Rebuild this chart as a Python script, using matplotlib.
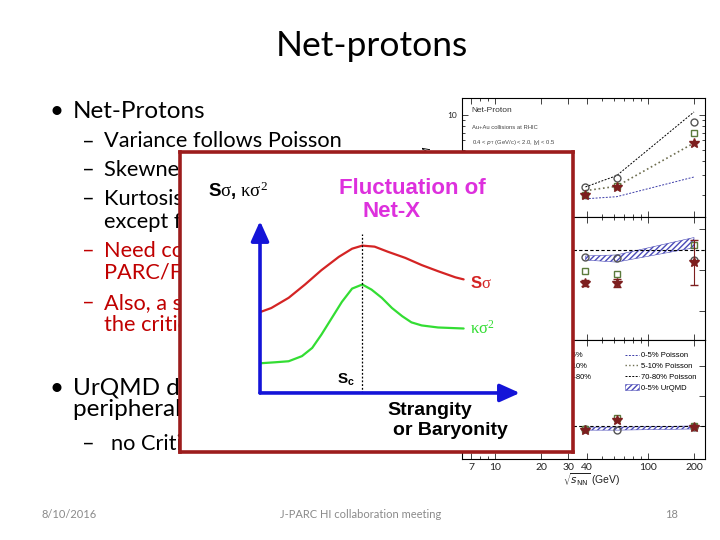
import matplotlib.pyplot as plt
from matplotlib.ticker import FixedLocator, NullFormatter, FormatStrFormatter

plt.rcParams['font.family'] = ['Lato', 'DejaVu Sans']
plt.rcParams['mathtext.rm'] = 'Liberation Serif'
plt.rcParams['mathtext.it'] = 'Liberation Serif:italic'
plt.rcParams['mathtext.bf'] = 'Liberation Sans:bold'

# --- schematic overlay: curves vs. strangity/baryonity (x in units of S_c) ---
red_x = [0, 0.11, 0.28, 0.44, 0.60, 0.77, 0.90, 1.0, 1.12, 1.25, 1.42, 1.58, 1.74, 1.91, 1.99]
red_y = [0.79, 0.83, 0.93, 1.06, 1.20, 1.33, 1.41, 1.44, 1.43, 1.38, 1.32, 1.25, 1.19, 1.13, 1.11]
green_x = [0, 0.15, 0.28, 0.41, 0.51, 0.60, 0.70, 0.80, 0.90, 1.0, 1.09, 1.19, 1.29,
           1.39, 1.48, 1.58, 1.74, 1.99]
green_y = [0.29, 0.30, 0.31, 0.36, 0.44, 0.57, 0.73, 0.89, 1.02, 1.06, 1.01, 0.93, 0.83,
           0.75, 0.69, 0.66, 0.64, 0.63]
s_crit = 1.0
s_crit_top = 1.55
x_axis_len = 2.54
y_axis_len = 1.68

# --- background STAR net-proton panels ---
energies = [39, 62.4, 200]
xtick_vals = [7, 10, 20, 30, 40, 100, 200]

top_star = [2.0, 2.37, 5.7]
top_square = [2.0, 2.4, 7.0]
top_circle = [2.37, 2.83, 8.7]
top_pois_0_5 = [1.87, 1.95, 2.89]
top_pois_5_10 = [2.2, 2.4, 5.7]
top_pois_70_80 = [2.37, 2.97, 10.6]

mid_star = [0.68, 0.68, 0.88]
mid_star_err = [0.03, 0.04, 0.22]
mid_square = [0.79, 0.76, 1.05]
mid_circle = [0.93, 0.92, 0.90]
mid_band_lo = [0.90, 0.88, 1.02]
mid_band_hi = [0.94, 0.95, 1.12]
mid_poisson = 1.0

bot_star = [0.93, 1.10, 0.98]
bot_square = [0.95, 1.13, 1.0]
bot_circle = [0.95, 0.93, 0.98]
bot_band_lo = [0.93, 0.93, 0.95]
bot_band_hi = [0.98, 0.98, 1.0]
bot_poisson = 1.0


def rect(x0, y0, x1, y1):
    return [x0 / 720, 1 - y1 / 540, (x1 - x0) / 720, (y1 - y0) / 540]


fig = plt.figure(figsize=(7.2, 5.4), dpi=100)

# slide layer in pixel coordinates
slide = fig.add_axes([0, 0, 1, 1])
slide.set_xlim(0, 720)
slide.set_ylim(540, 0)
slide.axis('off')
slide.set_zorder(0)

red_txt = '#c00000'
slide.text(372, 56, 'Net-protons', ha='center', va='baseline', fontsize=25.5)

main_fs = 17.5
sub_fs = 15.7
lines = [
    (50, 73, 117.7, 'Net-Protons', 'k', main_fs, '•'),
    (82, 104, 147.3, 'Variance follows Poisson', 'k', sub_fs, '–'),
    (82, 104, 176, 'Skewness lower', 'k', sub_fs, '–'),
    (82, 104, 205, 'Kurtosis', 'k', sub_fs, '–'),
    (82, 104, 227.7, 'except for 19.6 GeV', 'k', sub_fs, ''),
    (82, 104, 256.7, 'Need confirmation at J-', red_txt, sub_fs, '–'),
    (82, 104, 279.3, 'PARC/FAIR energies', red_txt, sub_fs, ''),
    (82, 104, 309, 'Also, a search for', red_txt, sub_fs, '–'),
    (82, 104, 331.3, 'the critical point', red_txt, sub_fs, ''),
    (50, 73, 395, 'UrQMD describes', 'k', main_fs, '•'),
    (50, 73, 416, 'peripheral data', 'k', main_fs, ''),
    (82, 111, 450, 'no Critical Point', 'k', sub_fs, '–'),
]
for bx, tx, y, txt, col, fs, mark in lines:
    if mark:
        slide.text(bx, y, mark, ha='left', va='baseline', fontsize=fs, color=col)
    slide.text(tx, y, txt, ha='left', va='baseline', fontsize=fs, color=col)

grey = '#8a8a8a'
slide.text(41, 515, '8/10/2016', ha='left', va='center', fontsize=8, color=grey)
slide.text(361, 515, 'J-PARC HI collaboration meeting', ha='center', va='center',
           fontsize=8, color=grey)
slide.text(678, 515, '18', ha='right', va='center', fontsize=8, color=grey)

# background data panels
ax_top = fig.add_axes(rect(462, 98, 705, 217))
ax_mid = fig.add_axes(rect(462, 217, 705, 340))
ax_bot = fig.add_axes(rect(462, 340, 705, 459))
star_c = '#7d1f1f'
sq_c = '#5b7a3c'
circ_c = '#555555'
band_c = '#4a4ab8'

for ax in (ax_top, ax_mid, ax_bot):
    ax.set_zorder(1)
    ax.set_xscale('log')
    ax.set_xlim(6.08, 236)
    ax.xaxis.set_major_locator(FixedLocator(xtick_vals))
    ax.xaxis.set_minor_formatter(NullFormatter())
    ax.tick_params(which='both', direction='in', top=True, right=True,
                   labelsize=6, colors='#222222', width=0.6)
    ax.tick_params(which='major', length=4)
    ax.tick_params(which='minor', length=2)
    for sp in ax.spines.values():
        sp.set_linewidth(0.8)
    if ax is not ax_bot:
        ax.tick_params(labelbottom=False)
    if ax is not ax_top:
        ax.tick_params(labelleft=False)
ax_bot.xaxis.set_major_formatter(FormatStrFormatter('%g'))
ax_bot.tick_params(axis='x', labelsize=7.5, pad=3)
ax_bot.set_xlabel(r'$\sqrt{s_{\rm NN}}$ (GeV)', fontsize=7.5, family='Liberation Sans',
                  color='#222222')
ax_bot.xaxis.set_label_coords(0.535, -0.1)

ms = dict(markersize=5, linestyle='none')
ax_top.set_yscale('log')
ax_top.set_ylim(1.3, 14)
ax_top.yaxis.set_major_locator(FixedLocator([10]))
ax_top.yaxis.set_major_formatter(FormatStrFormatter('%g'))
ax_top.yaxis.set_minor_formatter(NullFormatter())
ax_top.set_ylabel(r'$\sigma^2/M$', fontsize=7)
ax_top.yaxis.set_label_coords(-0.11, 0.5)
ax_top.plot(energies, top_pois_70_80, '--', color='k', lw=0.7, dashes=(2, 1.5))
ax_top.plot(energies, top_pois_5_10, ':', color='#6e6e50', lw=1.2)
ax_top.plot(energies, top_pois_0_5, '--', color='#3c3ca8', lw=0.7, dashes=(2, 1.5))
ax_top.plot(energies, top_circle, marker='o', mfc='none', mec=circ_c, **ms)
ax_top.plot(energies, top_square, marker='s', mfc='none', mec=sq_c, **ms)
ax_top.plot(energies, top_star, marker='*', color=star_c, markersize=7, linestyle='none')
ax_top.text(0.04, 0.88, 'Net-Proton', transform=ax_top.transAxes, fontsize=6,
            family='Liberation Sans', color='#333333')
ax_top.text(0.04, 0.74, 'Au+Au collisions at RHIC', transform=ax_top.transAxes,
            fontsize=4.2, family='Liberation Sans', color='#444444')
ax_top.text(0.04, 0.61, r'0.4 < $p_{\rm T}$ (GeV/c) < 2.0, |y| < 0.5', transform=ax_top.transAxes,
            fontsize=4.2, family='Liberation Sans', color='#444444')

ax_mid.set_ylim(0.12, 1.32)
ax_mid.set_yticks([0.4, 0.8, 1.2])
ax_mid.axhline(mid_poisson, color='k', lw=0.8, ls=(0, (3, 2)))
ax_mid.fill_between(energies, mid_band_lo, mid_band_hi, facecolor='none',
                    edgecolor=band_c, hatch='//////', lw=0.4)
ax_mid.plot(energies, mid_circle, marker='o', mfc='none', mec=circ_c, **ms)
ax_mid.plot(energies, mid_square, marker='s', mfc='none', mec=sq_c, **ms)
ax_mid.errorbar(energies, mid_star, yerr=mid_star_err, fmt='*', color=star_c,
                markersize=7, capsize=3, lw=0.8)

ax_bot.set_ylim(0.45, 2.43)
ax_bot.set_yticks([1, 1.5, 2])
ax_bot.axhline(bot_poisson, color='k', lw=0.8, ls=(0, (3, 2)))
ax_bot.fill_between(energies, bot_band_lo, bot_band_hi, facecolor='none',
                    edgecolor=band_c, hatch='//////', lw=0.4)
ax_bot.plot(energies, bot_circle, marker='o', mfc='none', mec=circ_c, **ms)
ax_bot.plot(energies, bot_square, marker='s', mfc='none', mec=sq_c, **ms)
ax_bot.plot(energies, bot_star, marker='*', color=star_c, markersize=7, linestyle='none')

leg_prop = {'family': 'Liberation Sans', 'size': 5.5}
h1 = [plt.Line2D([], [], marker='*', color=star_c, ls='none', markersize=5),
      plt.Line2D([], [], marker='s', mfc='none', mec=sq_c, ls='none', markersize=4),
      plt.Line2D([], [], marker='o', mfc='none', mec=circ_c, ls='none', markersize=4)]
leg1 = ax_bot.legend(h1, ['0-5%', '5-10%', '70-80%'], loc='upper left',
                     bbox_to_anchor=(0.37, 0.9), frameon=False,
                     handlelength=1.5, handletextpad=0.3, labelspacing=0.45,
                     borderpad=0, borderaxespad=0, prop=leg_prop)
ax_bot.add_artist(leg1)
h2 = [plt.Line2D([], [], color='#3c3ca8', lw=0.7, ls='--', dashes=(2, 1.5)),
      plt.Line2D([], [], color='#6e6e50', lw=1.0, ls=':'),
      plt.Line2D([], [], color='k', lw=0.7, ls='--', dashes=(2, 1.5)),
      plt.Rectangle((0, 0), 1, 1, facecolor='none', edgecolor=band_c, hatch='//////', lw=0.4)]
ax_bot.legend(h2, ['0-5% Poisson', '5-10% Poisson', '70-80% Poisson', '0-5% UrQMD'],
              loc='upper left', bbox_to_anchor=(0.67, 0.9), frameon=False,
              handlelength=1.8, handletextpad=0.3, labelspacing=0.45,
              borderpad=0, borderaxespad=0, prop=leg_prop)

# schematic overlay box
box = fig.add_axes(rect(180, 152, 573, 452))
box.set_zorder(3)
box.set_facecolor('white')
box.set_xlim(-0.782, 3.059)
box.set_ylim(-0.577, 2.355)
box.set_xticks([])
box.set_yticks([])
for sp in box.spines.values():
    sp.set_color('#9c1c1c')
    sp.set_linewidth(2.6)

blue = '#1414d8'
curve_red = '#d42424'
curve_green = '#33dd33'
box.plot(red_x, red_y, color=curve_red, lw=1.6, solid_joinstyle='round', solid_capstyle='round')
box.plot(green_x, green_y, color=curve_green, lw=1.6, solid_joinstyle='round',
         solid_capstyle='round')
box.plot([s_crit, s_crit], [0, s_crit_top], color='k', lw=0.9, ls=(0, (1.5, 1.5)))
arrow = dict(arrowstyle='-|>,head_length=1.0,head_width=0.45', color=blue, lw=2.6,
             shrinkA=0, shrinkB=0, mutation_scale=12)
box.annotate('', xy=(0, y_axis_len), xytext=(0, 0), arrowprops=arrow)
box.annotate('', xy=(x_axis_len, 0), xytext=(0, 0), arrowprops=arrow)

box.text(-0.51, 1.98, r'$\mathbf{S}\mathrm{\sigma}\mathbf{,}\ \mathrm{\kappa\sigma}^{\mathrm{2}}$',
         fontsize=13.5, math_fontfamily='custom', ha='left', va='center')
box.text(1.486, 2.0, 'Fluctuation of', fontsize=16, color='#dd30dd', weight='bold',
         family='Liberation Sans', ha='center', va='center')
box.text(1.29, 1.77, 'Net-X', fontsize=16, color='#dd30dd', weight='bold',
         family='Liberation Sans', ha='center', va='center')
box.text(2.05, 1.075, r'$\mathbf{S}\mathrm{\sigma}$', fontsize=12, color=curve_red,
         math_fontfamily='custom', ha='left', va='center')
box.text(2.05, 0.635, r'$\mathrm{\kappa\sigma}^{\mathrm{2}}$', fontsize=12, color=curve_green,
         math_fontfamily='custom', ha='left', va='center')
box.text(0.75, 0.13, r'$\mathbf{S_c}$', fontsize=11, math_fontfamily='custom',
         ha='left', va='center')
box.text(1.66, -0.17, 'Strangity', fontsize=14, weight='bold', family='Liberation Sans',
         ha='center', va='center')
box.text(1.866, -0.37, 'or Baryonity', fontsize=14, weight='bold', family='Liberation Sans',
         ha='center', va='center')

fig.savefig('out.png', dpi=100)
